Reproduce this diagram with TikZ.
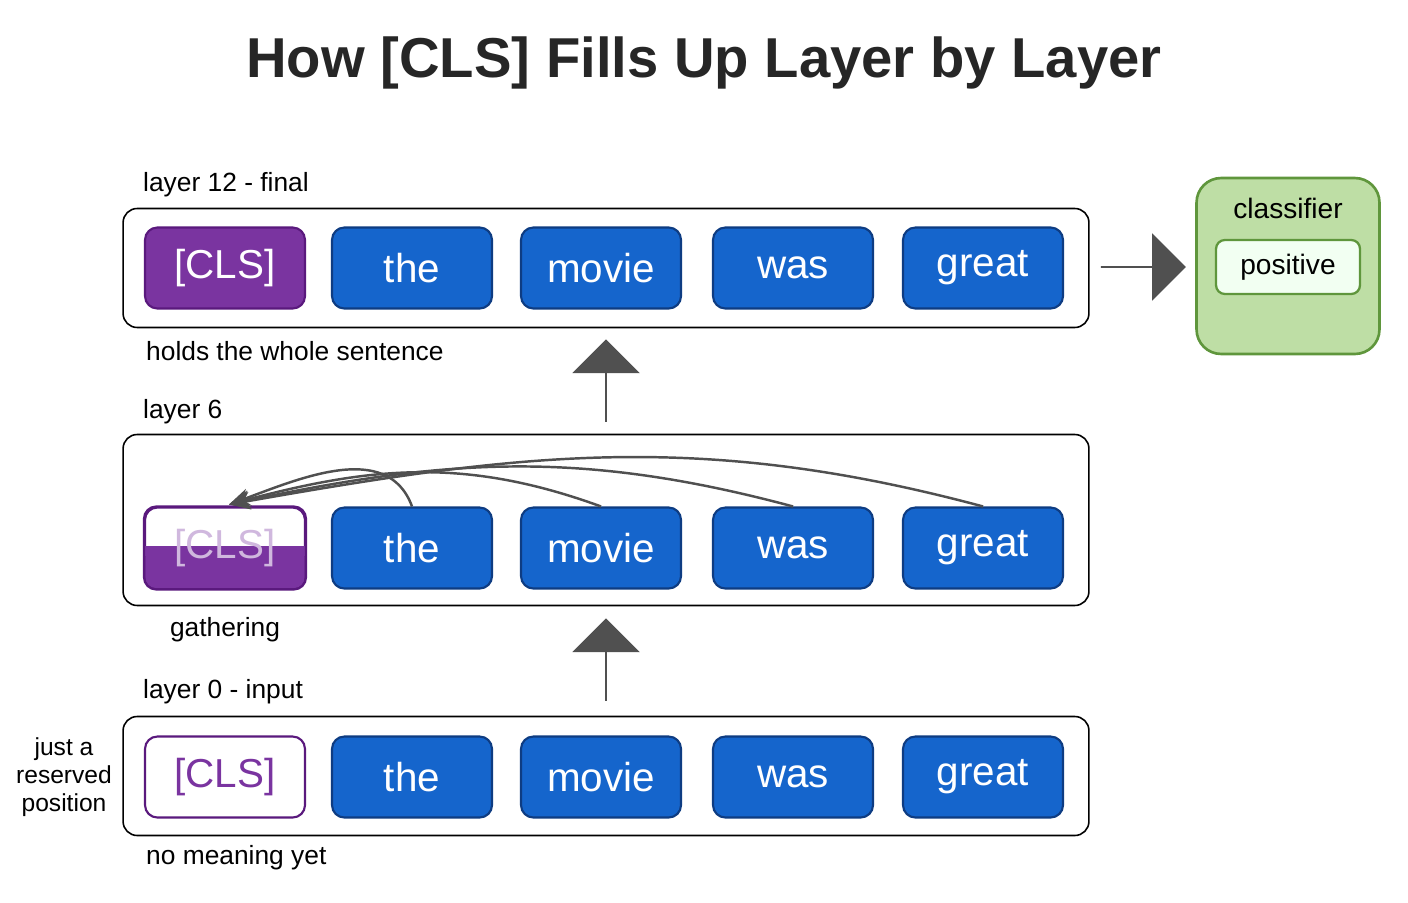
\documentclass[tikz,border=0pt]{standalone}
\usepackage{fontspec}
\setmainfont{Liberation Sans}
\usetikzlibrary{shapes,arrows.meta,positioning,calc}
\definecolor{tokblue}{RGB}{21,101,204}
\definecolor{tokedge}{RGB}{14,60,130}
\definecolor{clspurple}{RGB}{122,52,160}
\definecolor{clsedge}{RGB}{90,25,125}
\definecolor{clsgreen}{RGB}{190,222,165}
\definecolor{greenedge}{RGB}{95,150,60}
\definecolor{arrowgray}{RGB}{80,80,80}

\begin{document}
\begin{tikzpicture}[
    x=0.02cm, y=-0.02cm,
    token/.style={rectangle, draw=tokedge, fill=tokblue, line width=1.2pt, minimum width=3.2cm, minimum height=1.62cm, rounded corners=7pt, text=white, font=\fontsize{23}{26}\selectfont},
    clsfull/.style={token, draw=clsedge, fill=clspurple},
    clsempty/.style={token, draw=clsedge, fill=white, text=clspurple},
    row/.style={rectangle, draw=black, line width=0.9pt, fill=white, rounded corners=8pt},
    caption/.style={font=\fontsize{15}{18}\selectfont, anchor=west},
    blockarrow/.style={single arrow, fill=arrowgray, draw=none, minimum width=1.35cm, single arrow head extend=0.3cm, single arrow tip angle=90, inner sep=0pt},
    attn/.style={-{Stealth[length=12pt,width=10pt]}, draw=arrowgray, line width=1.4pt}
]
    \useasboundingbox (0,0) rectangle (1408,902);
    % Title
    \node[font=\fontsize{32}{36}\selectfont\bfseries, text=black!85] (title) at (704,63) {How [CLS] Fills Up Layer by Layer};

    % Row frames
    \node[row, minimum width=19.32cm, minimum height=2.38cm] (frametop) at (606,268) {};
    \node[row, minimum width=19.32cm, minimum height=3.42cm] (framemid) at (606,520) {};
    \node[row, minimum width=19.32cm, minimum height=2.38cm] (framebot) at (606,776) {};

    % Tokens
    \node[clsfull] (cls12) at (225,268) {[CLS]};
    \node[clsempty] (cls0) at (225,777) {[CLS]};
    \node[token, draw=clsedge, fill=white] (cls6) at (225,548) {};
    \fill[clspurple, rounded corners=6pt] ($(cls6.south west)+(1.5,-1.5)$) rectangle ($(cls6.east)+(-1.5,-2)$);
    \fill[clspurple] ($(cls6.west)+(1.5,8)$) rectangle ($(cls6.east)+(-1.5,-2)$);
    \draw[clsedge, line width=1.2pt, rounded corners=7pt] (cls6.south west) rectangle (cls6.north east);
    \node[font=\fontsize{23}{26}\selectfont, text=clspurple!35] at (cls6) {[CLS]};
    \foreach \w/\x in {the/412, movie/601, was/793, great/983} {
        \node[token] (\w12) at (\x,268) {\w};
        \node[token] (\w6) at (\x,548) {\w};
        \node[token] (\w0) at (\x,777) {\w};
    }

    % Captions
    \node[caption] (lab12) at (137,185) {layer 12 - final};
    \node[caption] (note12) at (140,351) {holds the whole sentence};
    \node[caption] (lab6) at (137,412) {layer 6};
    \node[font=\fontsize{15}{18}\selectfont] (note6) at (225,630) {gathering};
    \node[caption] (lab0) at (137,692) {layer 0 - input};
    \node[caption] (note0) at (140,858) {no meaning yet};
    \node[font=\fontsize{14}{16}\selectfont, align=center] (reserved) at (64,777) {just a\\reserved\\position};

    % Attention curves
    \draw[attn] (the6.north) to[out=110, in=20] ($(cls6.north)+(4,-2)$);
    \draw[attn] (movie6.north) to[out=160, in=15] ($(cls6.north)+(4,-2)$);
    \draw[attn] (was6.north) to[out=165, in=12] ($(cls6.north)+(4,-2)$);
    \draw[attn] (great6.north) to[out=165, in=10] ($(cls6.north)+(4,-2)$);

    % Flow arrows
    \node[blockarrow, rotate=90, minimum height=1.65cm] (up1) at (606,660) {};
    \node[blockarrow, rotate=90, minimum height=1.65cm] (up2) at (606,381) {};
    \node[blockarrow, minimum height=1.7cm] (right) at (1143,267) {};

    % Classifier
    \node[rectangle, draw=greenedge, fill=clsgreen, line width=1.5pt, rounded corners=14pt, minimum width=3.66cm, minimum height=3.52cm] (classifier) at (1288,266) {};
    \node[font=\fontsize{16}{19}\selectfont] (clstitle) at (1288,208) {classifier};
    \node[rectangle, draw=greenedge, fill=green!5!white, line width=1.3pt, rounded corners=5pt, minimum width=2.88cm, minimum height=1.08cm, font=\fontsize{16}{19}\selectfont] (positive) at (1288,267) {positive};
\end{tikzpicture}
\end{document}
